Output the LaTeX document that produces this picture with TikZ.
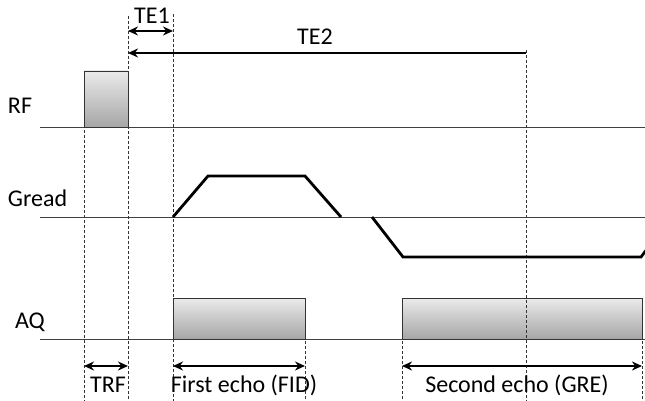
\documentclass[tikz,border=0pt]{standalone}
\usepackage{fontspec}
\setmainfont{Carlito}
\usetikzlibrary{arrows.meta}
\tikzset{
  axisline/.style={draw=black!75, line width=0.8pt},
  guide/.style={draw=black!80, line width=0.6pt, dash pattern=on 3pt off 2pt},
  pulse/.style={draw=black!80, line width=0.7pt, top color=black!8, bottom color=black!35},
  grad/.style={draw=black, line width=2.8pt, line join=miter, line cap=butt},
  span/.style={draw=black, line width=2.8pt, {Stealth[length=10pt,width=9pt]}-{Stealth[length=10pt,width=9pt]}},
  spanr/.style={draw=black, line width=2.8pt, {Stealth[length=10pt,width=9pt]}-},
  lbl/.style={font=\fontsize{24}{26}\selectfont, inner sep=0pt}
}
\begin{document}
\begin{tikzpicture}[x=1pt, y=-1pt]
\useasboundingbox (0,0) rectangle (645,401);

% row baselines
\coordinate (rfL) at (40,127);   \coordinate (rfR) at (645,127);
\coordinate (grL) at (40,217);   \coordinate (grR) at (645,217);
\coordinate (aqL) at (40,339);   \coordinate (aqR) at (645,339);
\draw[axisline] (rfL) -- (rfR);
\draw[axisline] (grL) -- (grR);
\draw[axisline] (aqL) -- (aqR);

% row labels
\node[lbl] (rf) at (20,106) {RF};
\node[lbl] (gread) at (37.5,198) {Gread};
\node[lbl] (aq) at (30,322) {AQ};

% RF pulse and acquisition windows
\node[pulse, minimum width=44pt, minimum height=56pt, inner sep=0pt] (rfbox) at (106,99) {};
\node[pulse, minimum width=132pt, minimum height=41pt, inner sep=0pt] (aq1) at (239,318.5) {};
\node[pulse, minimum width=240pt, minimum height=41pt, inner sep=0pt] (aq2) at (522,318.5) {};

% timing guides
\coordinate (g1t) at (84,130);   \coordinate (g1b) at (84,401);
\coordinate (g2t) at (128,16);   \coordinate (g2b) at (128,401);
\coordinate (g3t) at (173,14);   \coordinate (g3b) at (173,401);
\coordinate (g4t) at (305,341);  \coordinate (g4b) at (305,401);
\coordinate (g5t) at (402,341);  \coordinate (g5b) at (402,401);
\coordinate (g6t) at (526,50);   \coordinate (g6b) at (526,401);
\coordinate (g7t) at (642,341);  \coordinate (g7b) at (642,401);
\foreach \g in {1,...,7} \draw[guide] (g\g t) -- (g\g b);

% readout gradient
\coordinate (p1) at (173,217); \coordinate (p2) at (208,176);
\coordinate (p3) at (305,176); \coordinate (p4) at (341,217);
\coordinate (q1) at (372,217); \coordinate (q2) at (403,257);
\coordinate (q3) at (641,257); \coordinate (q4) at (647,249);
\draw[grad] (p1) -- (p2) -- (p3) -- (p4);
\draw[grad] (q1) -- (q2) -- (q3) -- (q4);

% echo times
\coordinate (te1a) at (128,31); \coordinate (te1b) at (173,31);
\coordinate (te2a) at (128,53); \coordinate (te2b) at (526,53);
\draw[span] (te1a) -- (te1b);
\draw[spanr] (te2a) -- (te2b);
\node[lbl] (te1) at (152,16) {TE1};
\node[lbl] (te2) at (315,37) {TE2};

% durations
\coordinate (trfa) at (84,366);  \coordinate (trfb) at (128,366);
\coordinate (e1a) at (173,366);  \coordinate (e1b) at (305,366);
\coordinate (e2a) at (402,366);  \coordinate (e2b) at (642,366);
\draw[span] (trfa) -- (trfb);
\draw[span] (e1a) -- (e1b);
\draw[span] (e2a) -- (e2b);
\node[lbl] (trf) at (108,385) {TRF};
\node[lbl] (fid) at (244,385) {First echo (FID)};
\node[lbl] (gre) at (517,385) {Second echo (GRE)};
\end{tikzpicture}
\end{document}
